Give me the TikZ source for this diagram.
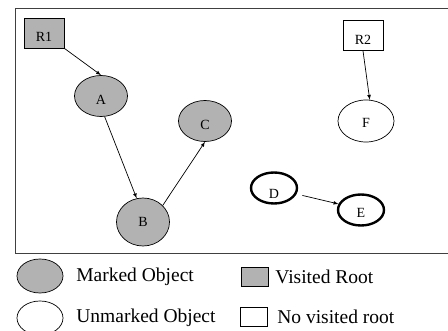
\documentclass[tikz,border=0pt]{standalone}
\usepackage{fontspec}
\setmainfont{Liberation Serif}
\usetikzlibrary{shapes.geometric}

\begin{document}
\begin{tikzpicture}[x=1pt,y=-1pt,>=latex,line width=0.7pt]
		 \tikzstyle{every node}=[draw,inner sep=0pt,font=\fontsize{14}{16}\selectfont]
		 \tikzstyle{low}=[text height=18pt,text depth=0pt]
		 \tikzstyle{marked}=[shape=ellipse,fill=black!30,minimum width=53pt,minimum height=41pt]
		 \tikzstyle{unmarked}=[shape=ellipse,fill=white,minimum width=56pt,minimum height=42pt]
		 \tikzstyle{thickobj}=[shape=ellipse,line width=2.4pt,minimum width=46pt,minimum height=31pt]
		 \tikzstyle{rootbox}=[shape=rectangle,minimum width=40pt,minimum height=30pt]
		 \tikzstyle{legtext}=[draw=none,anchor=west,font=\fontsize{19.5}{22}\selectfont]
	
		  \useasboundingbox (0,0) rectangle (448,331);
		  % frame, open on the right
		  \draw[black!75,line width=1.2pt] (448,8.5) -- (15.5,8.5) -- (15.5,253.5) -- (448,253.5);

		  \node[rootbox,fill=black!30,low] (r1) at (44,33)   {R1};
		  \node[rootbox,fill=white,low]    (r2) at (363,35.5) {R2};
		  \node[marked,low]   (a) at (101,96)  {A};
		  \node[marked,low]   (c) at (205,121) {C};
		  \node[marked,minimum height=48pt] (b) at (143,222) {B};
		  \node[unmarked,text height=14pt,text depth=0pt] (f) at (366,121) {F};
		  \node[thickobj,text height=21pt,text depth=0pt] (d) at (274,188) {D};
		  \node[thickobj,text height=15pt,text depth=0pt] (e) at (361,210) {E};

		  \path[->] (r1.south east) edge (a.north);
		  \path[->] (a.-80) edge (b.105);
		  \path[->] (b.40) edge (c.south);
		  \path[->] (r2.south) edge (f.80);
		  \path[->] (d.-15) edge[shorten <=6pt] (e.165);

		  % legend
		  \node[marked,minimum width=46pt,minimum height=34pt]   (lm) at (40,276) {};
		  \node[unmarked,minimum width=46pt,minimum height=34pt] (lu) at (40,318) {};
		  \node[rootbox,fill=black!30,minimum width=27pt,minimum height=19pt] (lv) at (254.5,276.5) {};
		  \node[rootbox,fill=white,minimum width=27pt,minimum height=19pt]    (ln) at (253.5,316.5) {};
		  \node[legtext] (tm) at (76,277) {Marked Object};
		  \node[legtext] (tu) at (76,318) {Unmarked Object};
		  \node[legtext] (tv) at (275,277) {Visited Root};
		  \node[legtext] (tn) at (277,317) {No visited root};

		\end{tikzpicture}
\end{document}
